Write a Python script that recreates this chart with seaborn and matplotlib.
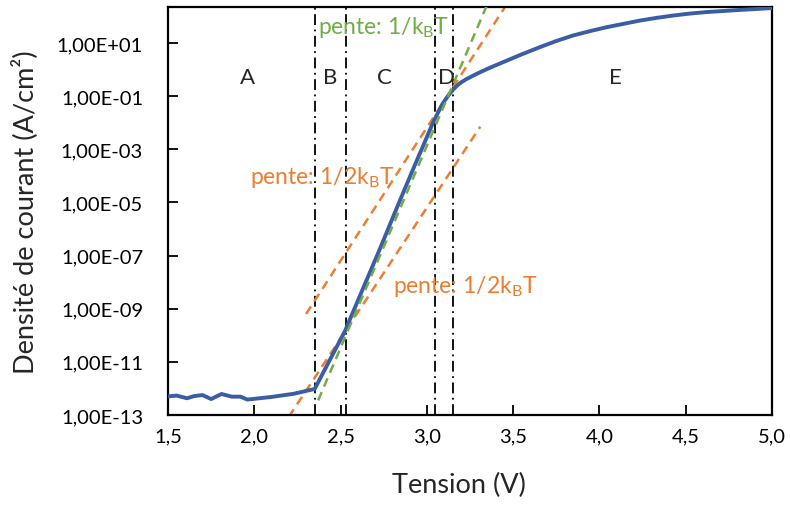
import numpy as np
import pandas as pd
import seaborn as sns
import matplotlib
matplotlib.use("Agg")
import matplotlib.pyplot as plt
from matplotlib.ticker import FuncFormatter

# courbe J(V) (log10 de J en A/cm2)
tension = [1.50, 1.55, 1.61, 1.65, 1.70, 1.75, 1.81, 1.87, 1.92, 1.96, 2.03, 2.10,
           2.23, 2.35, 2.44, 2.525, 2.60, 2.728, 2.82, 2.921, 2.98, 3.037, 3.09,
           3.12, 3.153, 3.18, 3.20, 3.23, 3.269, 3.30, 3.35, 3.40, 3.462, 3.55,
           3.655, 3.75, 3.848, 3.95, 4.042, 4.15, 4.235, 4.33, 4.428, 4.52,
           4.621, 4.72, 4.814, 4.90, 5.00]
log_j = [-12.30, -12.27, -12.37, -12.29, -12.25, -12.40, -12.21, -12.31, -12.31,
         -12.42, -12.37, -12.32, -12.20, -12.02, -10.90, -9.85, -8.70, -6.75,
         -5.30, -3.74, -2.85, -1.98, -1.30, -1.02, -0.75, -0.58, -0.48, -0.36,
         -0.23, -0.13, 0.02, 0.16, 0.33, 0.57, 0.84, 1.07, 1.28, 1.45, 1.59,
         1.73, 1.84, 1.94, 2.03, 2.10, 2.16, 2.20, 2.24, 2.27, 2.31]

# droites de pente
vert_v = [2.37, 3.36]
vert_logj = [-12.45, 2.60]
orange_haut_v = [2.30, 3.47]
orange_haut_logj = [-9.20, 2.52]
orange_bas_v = [2.20, 3.31]
orange_bas_logj = [-13.07, -2.15]

# limites des zones
limites = [2.35, 2.53, 3.05, 3.15]
zones = ["A", "B", "C", "D", "E"]
zones_v = [1.958, 2.439, 2.757, 3.111, 4.09]

bleu = "#3A5DA4"
orange = "#ED7D31"
vert = "#70AD47"

sns.set_style("ticks")
plt.rcParams["font.family"] = ["Lato", "DejaVu Sans"]
plt.rcParams["mathtext.fontset"] = "custom"
plt.rcParams["mathtext.rm"] = "Lato"

fig = plt.figure(figsize=(7.9, 5.06), dpi=100)
ax = fig.add_axes([168 / 790, 1 - 416 / 506, 604 / 790, 408 / 506])

for v in limites:
    ax.axvline(v, color="black", lw=1.3, linestyle=(0, (6, 2.5, 1, 2.5)), zorder=1)

dash = (0, (3.6, 2.4))
sns.lineplot(x=orange_haut_v, y=10 ** np.array(orange_haut_logj), ax=ax, color=orange,
             lw=1.8, linestyle=dash, sort=False, zorder=2)
sns.lineplot(x=orange_bas_v, y=10 ** np.array(orange_bas_logj), ax=ax, color=orange,
             lw=1.8, linestyle=dash, sort=False, zorder=2)
sns.lineplot(x=tension, y=10 ** np.array(log_j), ax=ax, color=bleu, lw=2.8,
             sort=False, zorder=3)
sns.lineplot(x=vert_v, y=10 ** np.array(vert_logj), ax=ax, color=vert,
             lw=1.8, linestyle=dash, sort=False, zorder=4)

ax.set_yscale("log")
ax.set_xlim(1.5, 5.0)
ax.set_ylim(1e-13, 10 ** 2.35)
ax.set_xticks(np.arange(1.5, 5.01, 0.5))
ax.set_yticks(10.0 ** np.arange(-13, 2, 2))
ax.set_yticks([], minor=True)
ax.xaxis.set_major_formatter(FuncFormatter(lambda v, p: f"{v:.1f}".replace(".", ",")))
ax.yaxis.set_major_formatter(FuncFormatter(lambda v, p: f"{v:.2E}".replace(".", ",")))
ax.tick_params(axis="both", direction="in", length=7, width=1.3, labelsize=14.5,
               colors="black", top=False, right=False)
ax.tick_params(axis="x", pad=9)
ax.tick_params(axis="y", pad=18)
for s in ax.spines.values():
    s.set_linewidth(1.6)
    s.set_color("black")

ax.set_xlabel("Tension (V)", fontsize=19.5)
ax.set_ylabel("Densité de courant (A/cm²)", fontsize=19.5)
ax.xaxis.set_label_coords(0.482, -0.14)
ax.yaxis.set_label_coords(-0.215, 0.5)

for lab, v in zip(zones, zones_v):
    ax.text(v, 10 ** -0.28, lab, fontsize=16, ha="center", va="center")

ax.text(2.369, 10 ** 1.60, "pente: 1/k$_\\mathregular{B}$T", color=vert,
        fontsize=16.5, ha="left", va="center")
ax.text(1.975, 10 ** -4.04, "pente: 1/2k$_\\mathregular{B}$T", color=orange,
        fontsize=16.5, ha="left", va="center")
ax.text(2.804, 10 ** -8.14, "pente: 1/2k$_\\mathregular{B}$T", color=orange,
        fontsize=16.5, ha="left", va="center")

fig.savefig("out.png", dpi=100)
